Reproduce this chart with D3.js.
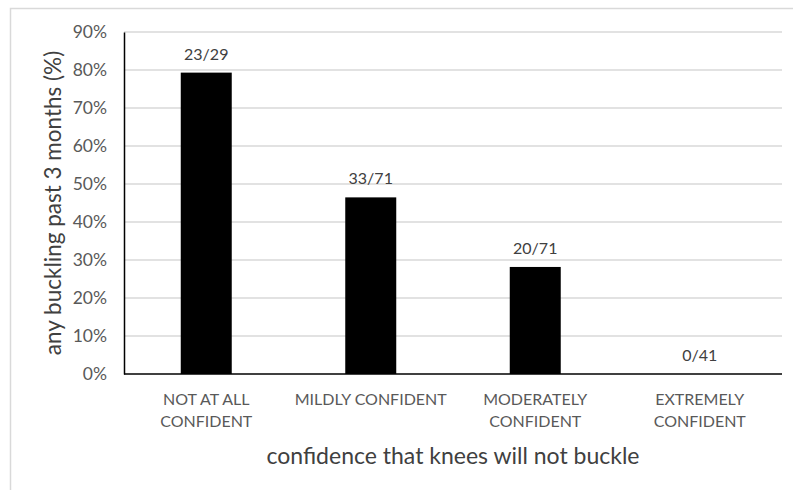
<!DOCTYPE html>
<html>
<head>
<meta charset="utf-8">
<script src="https://cdn.jsdelivr.net/npm/d3@7"></script>
<style>
  html, body { margin: 0; padding: 0; background: #fff; }
  svg { display: block; font-family: Lato, "Open Sans", sans-serif; }
</style>
</head>
<body>
<svg id="chart" width="793" height="490"></svg>
<script>
// Share of patients reporting any knee buckling, by confidence level
const categories = [
  ["NOT AT ALL", "CONFIDENT"],
  ["MILDLY CONFIDENT"],
  ["MODERATELY", "CONFIDENT"],
  ["EXTREMELY", "CONFIDENT"]
];
const buckled = [23, 33, 20, 0];
const totals = [29, 71, 71, 41];
const yTicks = [0, 10, 20, 30, 40, 50, 60, 70, 80, 90];

const svg = d3.select("#chart");
const W = 793, H = 490;
const plot = { left: 124, right: 782, top: 32, bottom: 374 };

// outer frame
svg.append("rect")
  .attr("x", 10.5).attr("y", 8.5)
  .attr("width", W).attr("height", H)
  .attr("fill", "none").attr("stroke", "#d9d9d9").attr("stroke-width", 1.5);

const x = d3.scaleBand()
  .domain(d3.range(categories.length))
  .range([plot.left, plot.right])
  .paddingInner(0).paddingOuter(0);

const y = d3.scaleLinear().domain([0, 90]).range([plot.bottom, plot.top]);

const pct = buckled.map((b, i) => b / totals[i] * 100);

// gridlines
svg.append("g")
  .selectAll("line")
  .data(yTicks.filter(t => t > 0))
  .join("line")
  .attr("x1", plot.left).attr("x2", plot.right)
  .attr("y1", d => y(d)).attr("y2", d => y(d))
  .attr("stroke", "#d9d9d9").attr("stroke-width", 1.3);

// y axis labels
const yAxis = d3.axisLeft(y).tickValues(yTicks).tickFormat(d => d + "%").tickSize(0).tickPadding(17);
const gy = svg.append("g").attr("transform", `translate(${plot.left},0)`).call(yAxis);
gy.select(".domain").attr("stroke", "#000").attr("stroke-width", 1.5);
gy.selectAll("text")
  .attr("fill", "#595959")
  .style("font-size", "17.5px")
  .style("font-family", "Lato, sans-serif");

// bars
const barW = x.bandwidth() * 0.31;
svg.append("g")
  .selectAll("rect")
  .data(pct)
  .join("rect")
  .attr("x", (d, i) => x(i) + x.bandwidth() / 2 - barW / 2)
  .attr("y", d => y(d))
  .attr("width", barW)
  .attr("height", d => y(0) - y(d))
  .attr("fill", "#000");

// x axis baseline
svg.append("line")
  .attr("x1", plot.left).attr("x2", plot.right)
  .attr("y1", y(0)).attr("y2", y(0))
  .attr("stroke", "#000").attr("stroke-width", 1.5);

// value labels
svg.append("g")
  .selectAll("text")
  .data(pct)
  .join("text")
  .attr("x", (d, i) => x(i) + x.bandwidth() / 2)
  .attr("y", d => y(d) - 13)
  .attr("text-anchor", "middle")
  .attr("fill", "#404040")
  .style("font-size", "16px")
  .text((d, i) => `${buckled[i]}/${totals[i]}`);

// category labels
const cat = svg.append("g")
  .selectAll("text")
  .data(categories)
  .join("text")
  .attr("x", (d, i) => x(i) + x.bandwidth() / 2)
  .attr("y", 405)
  .attr("text-anchor", "middle")
  .attr("fill", "#595959")
  .style("font-size", "16px");
cat.selectAll("tspan")
  .data(d => d)
  .join("tspan")
  .attr("x", function() { return this.parentNode.getAttribute("x"); })
  .attr("dy", (d, i) => i === 0 ? 0 : 22)
  .text(d => d);

// axis titles
svg.append("text")
  .attr("x", (plot.left + plot.right) / 2)
  .attr("y", 464)
  .attr("text-anchor", "middle")
  .attr("fill", "#404040")
  .style("font-size", "23px")
  .text("confidence that knees will not buckle");

svg.append("text")
  .attr("transform", `translate(61,${(plot.top + plot.bottom) / 2}) rotate(-90)`)
  .attr("text-anchor", "middle")
  .attr("fill", "#404040")
  .style("font-size", "22.5px")
  .text("any buckling past 3 months (%)");
</script>
</body>
</html>
